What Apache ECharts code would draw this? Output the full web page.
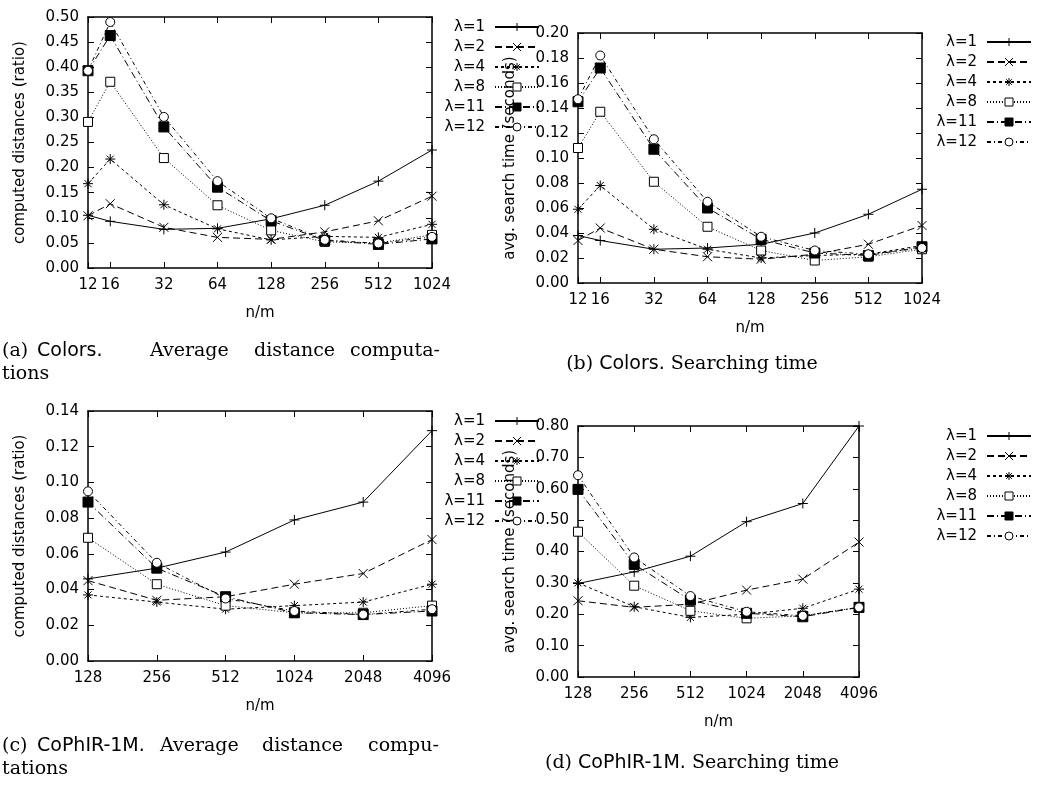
<!DOCTYPE html>
<html><head><meta charset="utf-8">
<script src="https://cdn.jsdelivr.net/npm/echarts@6/dist/echarts.min.js"></script>
<style>html,body{margin:0;padding:0;background:#fff}#c{width:1040px;height:792px}</style>
</head><body><div id="c"></div>
<script>
const seriesNames = ['λ=1', 'λ=2', 'λ=4', 'λ=8', 'λ=11', 'λ=12'];
const colorsX = [12, 16, 32, 64, 128, 256, 512, 1024];
const cophirX = [128, 256, 512, 1024, 2048, 4096];

// (a) Colors, computed distances (ratio)
const colorsDist = [
  [0.105, 0.093, 0.077, 0.079, 0.098, 0.125, 0.173, 0.235],
  [0.104, 0.128, 0.081, 0.061, 0.057, 0.072, 0.094, 0.143],
  [0.168, 0.217, 0.126, 0.078, 0.056, 0.063, 0.061, 0.087],
  [0.291, 0.371, 0.219, 0.125, 0.075, 0.052, 0.050, 0.066],
  [0.393, 0.463, 0.281, 0.161, 0.094, 0.055, 0.047, 0.058],
  [0.393, 0.490, 0.301, 0.173, 0.099, 0.056, 0.049, 0.062]
];
// (b) Colors, avg. search time (seconds)
const colorsTime = [
  [0.038, 0.034, 0.027, 0.028, 0.031, 0.040, 0.055, 0.075],
  [0.034, 0.044, 0.027, 0.021, 0.019, 0.023, 0.031, 0.046],
  [0.059, 0.078, 0.043, 0.027, 0.020, 0.022, 0.023, 0.030],
  [0.108, 0.137, 0.081, 0.045, 0.026, 0.018, 0.021, 0.027],
  [0.145, 0.172, 0.107, 0.060, 0.035, 0.024, 0.022, 0.029],
  [0.147, 0.182, 0.115, 0.065, 0.037, 0.026, 0.023, 0.028]
];
// (c) CoPhIR-1M, computed distances (ratio)
const cophirDist = [
  [0.046, 0.052, 0.061, 0.079, 0.089, 0.129],
  [0.045, 0.034, 0.036, 0.043, 0.049, 0.068],
  [0.037, 0.033, 0.029, 0.031, 0.033, 0.043],
  [0.069, 0.043, 0.031, 0.027, 0.027, 0.031],
  [0.089, 0.052, 0.036, 0.027, 0.026, 0.028],
  [0.095, 0.055, 0.035, 0.028, 0.026, 0.029]
];
// (d) CoPhIR-1M, avg. search time (seconds)
const cophirTime = [
  [0.298, 0.335, 0.385, 0.495, 0.553, 0.800],
  [0.243, 0.222, 0.232, 0.277, 0.312, 0.430],
  [0.300, 0.224, 0.190, 0.200, 0.219, 0.280],
  [0.463, 0.291, 0.211, 0.187, 0.195, 0.222],
  [0.598, 0.359, 0.245, 0.203, 0.192, 0.222],
  [0.643, 0.381, 0.258, 0.208, 0.195, 0.222]
];

const SANS = 'DejaVu Sans';
const SERIF = 'DejaVu Serif';
const FS = 15;
const CFS = 19;

const PLUS = 'path://M0 5L10 5M5 0L5 10';
const CROSS = 'path://M0 0L10 10M10 0L0 10';
const STAR = 'path://M0 5L10 5M5 0L5 10M1.5 1.5L8.5 8.5M8.5 1.5L1.5 8.5';
const styles = [
  { symbol: PLUS, fill: 'none', dash: 'solid', size: 10 },
  { symbol: CROSS, fill: 'none', dash: [7, 4], size: 9 },
  { symbol: STAR, fill: 'none', dash: [3, 3], size: 10 },
  { symbol: 'rect', fill: '#fff', dash: [1, 2], size: 9 },
  { symbol: 'rect', fill: '#000', dash: [7, 3, 1, 3], size: 10 },
  { symbol: 'circle', fill: '#fff', dash: [4, 3, 1, 3], size: 9 }
];

const panels = [
  { grid: { left: 88, top: 17, width: 344, height: 251 }, xs: colorsX, xmin: 12, xmax: 1024, ymax: 0.5, yint: 0.05, data: colorsDist, yname: 'computed distances (ratio)', legend: { right: 500, top: 19 } },
  { grid: { left: 578, top: 33, width: 344, height: 250 }, xs: colorsX, xmin: 12, xmax: 1024, ymax: 0.2, yint: 0.02, data: colorsTime, yname: 'avg. search time (seconds)', legend: { right: 8, top: 34 } },
  { grid: { left: 88, top: 411, width: 344, height: 250 }, xs: cophirX, xmin: 128, xmax: 4096, ymax: 0.14, yint: 0.02, data: cophirDist, yname: 'computed distances (ratio)', legend: { right: 500, top: 413 } },
  { grid: { left: 578, top: 426, width: 281, height: 251 }, xs: cophirX, xmin: 128, xmax: 4096, ymax: 0.8, yint: 0.1, data: cophirTime, yname: 'avg. search time (seconds)', legend: { right: 8, top: 428 } }
];

const grids = [], xAxes = [], yAxes = [], series = [], legends = [];
const axisLine = { onZero: false, lineStyle: { color: '#000', width: 1.5 } };
const tick = { inside: true, length: 6, lineStyle: { color: '#000', width: 1 } };
const lbl = { color: '#000', fontSize: FS, fontFamily: SANS };

panels.forEach((p, g) => {
  grids.push(Object.assign({ containLabel: false }, p.grid));
  const xBase = { type: 'log', logBase: 2, gridIndex: g, min: p.xmin, max: p.xmax, splitLine: { show: false }, axisLine, axisTick: tick };
  xAxes.push(Object.assign({}, xBase, {
    position: 'bottom',
    axisLabel: Object.assign({ margin: 10, formatter: v => String(Math.round(v)) }, lbl),
    name: 'n/m', nameLocation: 'middle', nameGap: 38, nameTextStyle: lbl
  }));
  xAxes.push(Object.assign({}, xBase, { position: 'top', axisLabel: { show: false } }));
  const yBase = { type: 'value', gridIndex: g, min: 0, max: p.ymax, interval: p.yint, splitLine: { show: false }, axisLine, axisTick: tick };
  yAxes.push(Object.assign({}, yBase, {
    position: 'left',
    axisLabel: Object.assign({ margin: 9, formatter: v => v.toFixed(2) }, lbl),
    name: p.yname, nameLocation: 'middle', nameGap: 60, nameTextStyle: lbl
  }));
  yAxes.push(Object.assign({}, yBase, { position: 'right', axisLabel: { show: false } }));
  seriesNames.forEach((name, i) => {
    const s = styles[i];
    series.push({
      type: 'line', name, xAxisIndex: 2 * g, yAxisIndex: 2 * g,
      data: p.xs.map((x, k) => [x, p.data[i][k]]),
      symbol: s.symbol, symbolSize: s.size, showSymbol: true,
      lineStyle: { color: '#000', width: 1, type: s.dash },
      itemStyle: { color: s.fill, borderColor: '#000', borderWidth: 1 },
      emphasis: { disabled: true }, animation: false, z: 2 + i
    });
  });
  legends.push(Object.assign({
    data: seriesNames, orient: 'vertical', align: 'right', padding: 0,
    itemWidth: 44, itemHeight: 10, itemGap: 4, selectedMode: false,
    textStyle: { color: '#000', fontSize: FS, fontFamily: SANS, lineHeight: 16, padding: [0, 5, 0, 0] },
    itemStyle: { borderWidth: 1 }
  }, p.legend));
});

const rich = { s: { fontFamily: SANS, fontSize: CFS }, r: { fontFamily: SERIF, fontSize: CFS } };
const word = (x, y, text, fam) => ({ type: 'text', x, y, style: { text, font: CFS + 'px ' + (fam || SERIF), fill: '#000', verticalAlign: 'middle' } });
const graphics = [
  word(2, 351, '(a)'), word(37, 351, 'Colors.', SANS), word(150, 351, 'Average'), word(254, 351, 'distance'), word(350, 351, 'computa-'),
  word(2, 374, 'tions'),
  { type: 'text', x: 692, y: 364, style: { text: '{r|(b)} {s|Colors.} {r|Searching time}', align: 'center', verticalAlign: 'middle', fill: '#000', font: CFS + 'px ' + SERIF, rich } },
  word(2, 746, '(c)'), word(37, 746, 'CoPhIR-1M.', SANS), word(160, 746, 'Average'), word(262, 746, 'distance'), word(368, 746, 'compu-'),
  word(2, 769, 'tations'),
  { type: 'text', x: 692, y: 763, style: { text: '{r|(d)} {s|CoPhIR-1M.} {r|Searching time}', align: 'center', verticalAlign: 'middle', fill: '#000', font: CFS + 'px ' + SERIF, rich } }
];

const chart = echarts.init(document.getElementById('c'), null, { renderer: 'canvas' });
chart.setOption({
  backgroundColor: '#fff', animation: false,
  grid: grids, xAxis: xAxes, yAxis: yAxes, series, legend: legends, graphic: graphics
});
</script></body></html>
